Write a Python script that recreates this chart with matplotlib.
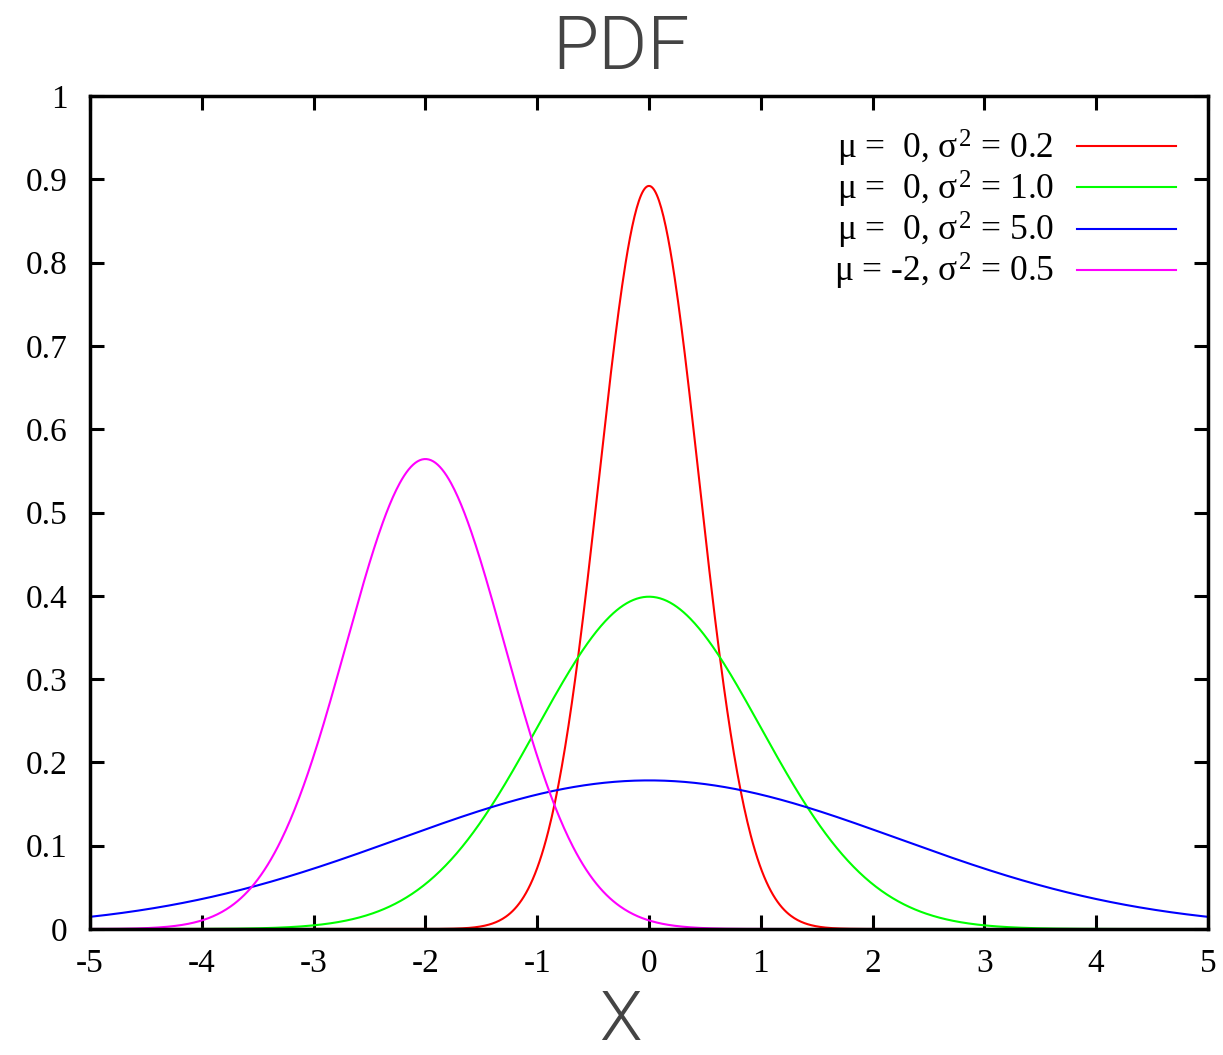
import numpy as np
import matplotlib
matplotlib.use("Agg")
import matplotlib.pyplot as plt

# curve parameters, as given in the legend
means = [0, 0, 0, -2]
variances = [0.2, 1.0, 5.0, 0.5]
colors = ["#ff0000", "#00ff00", "#0000ff", "#ff00ff"]
labels = [r"$\mu$ =  0, $\sigma^2$ = 0.2",
          r"$\mu$ =  0, $\sigma^2$ = 1.0",
          r"$\mu$ =  0, $\sigma^2$ = 5.0",
          r"$\mu$ = -2, $\sigma^2$ = 0.5"]
xticks = [-5, -4, -3, -2, -1, 0, 1, 2, 3, 4, 5]
yticks = [0, 0.1, 0.2, 0.3, 0.4, 0.5, 0.6, 0.7, 0.8, 0.9, 1]
ytick_labels = ["0", "0.1", "0.2", "0.3", "0.4", "0.5", "0.6", "0.7", "0.8", "0.9", "1"]

plt.rcParams["font.family"] = ["Liberation Serif", "DejaVu Serif"]
plt.rcParams["mathtext.fontset"] = "custom"
plt.rcParams["mathtext.rm"] = "Liberation Serif"
plt.rcParams["mathtext.it"] = "Liberation Serif"
plt.rcParams["axes.unicode_minus"] = False

fig = plt.figure(figsize=(12.23, 10.55), dpi=100)
ax = fig.add_axes([0.0736, 0.1194, 0.9141, 0.7896])

x = np.linspace(-5, 5, 1001)
for mu, var, c, lab in zip(means, variances, colors, labels):
    y = np.exp(-(x - mu) ** 2 / (2 * var)) / np.sqrt(2 * np.pi * var)
    ax.plot(x, y, color=c, lw=1.5, label=lab)

ax.set_xlim(-5, 5)
ax.set_ylim(0, 1)
ax.set_xticks(xticks)
ax.set_yticks(yticks)
ax.set_yticklabels(ytick_labels)
ax.tick_params(direction="in", length=10, width=2.2, labelsize=24,
               top=True, right=True)
ax.tick_params(axis="x", pad=14)
ax.tick_params(axis="y", pad=16)
for s in ax.spines.values():
    s.set_linewidth(2.5)

leg = ax.legend(loc="upper right", frameon=False, markerfirst=False,
                fontsize=25.5, handlelength=2.8, handletextpad=0.65,
                labelspacing=0.0, borderaxespad=0.5)

fig.text(0.508, 0.954, "PDF", ha="center", va="center", fontsize=54,
         family="Roboto", fontweight=300, color="#444444")
fig.text(0.507, 0.001, "X", ha="center", va="bottom", fontsize=50,
         family="Roboto", fontweight=300, color="#444444")

fig.savefig("out.png", dpi=100)
